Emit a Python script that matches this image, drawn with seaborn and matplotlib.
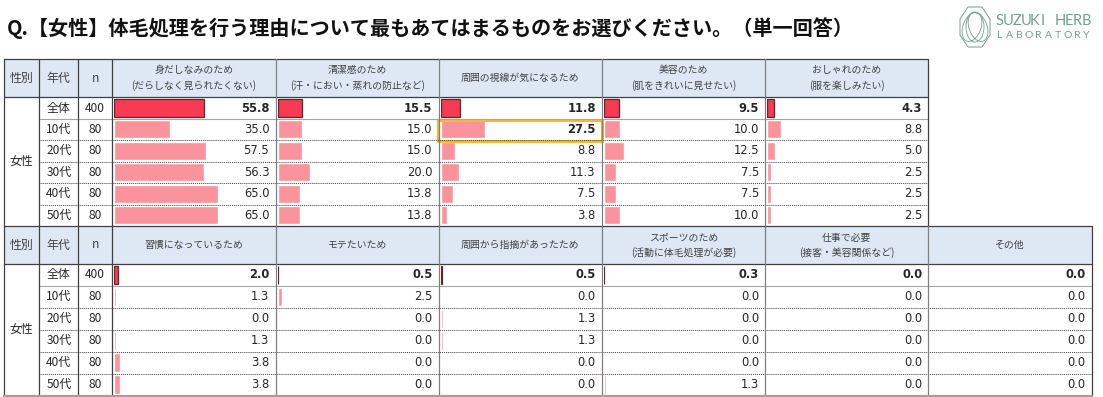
import numpy as np
import pandas as pd
import matplotlib
matplotlib.use('Agg')
import matplotlib.pyplot as plt
import matplotlib.transforms as mtrans
from matplotlib.patches import Rectangle, Polygon, Ellipse
import seaborn as sns

sns.set_theme(style='white')
plt.rcParams['font.family'] = ['Noto Sans CJK JP', 'DejaVu Sans']

# ---- data -------------------------------------------------------------
TITLE = 'Q.【女性】体毛処理を行う理由について最もあてはまるものをお選びください。（単一回答）'
GENDER = '女性'
AGES = ['全体', '10代', '20代', '30代', '40代', '50代']
N = [400, 80, 80, 80, 80, 80]

# upper block
headers_top = [
    ['身だしなみのため', '(だらしなく見られたくない)'],
    ['清潔感のため', '(汗・におい・蒸れの防止など)'],
    ['周囲の視線が気になるため'],
    ['美容のため', '(肌をきれいに見せたい)'],
    ['おしゃれのため', '(服を楽しみたい)'],
]
midashinami = [55.8, 35.0, 57.5, 56.3, 65.0, 65.0]
seiketsu = [15.5, 15.0, 15.0, 20.0, 13.8, 13.8]
shisen = [11.8, 27.5, 8.8, 11.3, 7.5, 3.8]
biyou = [9.5, 10.0, 12.5, 7.5, 7.5, 10.0]
oshare = [4.3, 8.8, 5.0, 2.5, 2.5, 2.5]

# lower block
headers_bottom = [
    ['習慣になっているため'],
    ['モテたいため'],
    ['周囲から指摘があったため'],
    ['スポーツのため', '(活動に体毛処理が必要)'],
    ['仕事で必要', '(接客・美容関係など)'],
    ['その他'],
]
shuukan = [2.0, 1.3, 0.0, 1.3, 3.8, 3.8]
motetai = [0.5, 2.5, 0.0, 0.0, 0.0, 0.0]
shiteki = [0.5, 0.0, 1.3, 1.3, 0.0, 0.0]
sports = [0.3, 0.0, 0.0, 0.0, 0.0, 1.3]
shigoto = [0.0, 0.0, 0.0, 0.0, 0.0, 0.0]
sonota = [0.0, 0.0, 0.0, 0.0, 0.0, 0.0]

values_top = [midashinami, seiketsu, shisen, biyou, oshare]
values_bottom = [shuukan, motetai, shiteki, sports, shigoto, sonota]
HIGHLIGHT = (0, 2, 1)  # block, column, row  (周囲の視線 / 10代)

# ---- style -----------------------------------------------------------
RED = '#F83A52'
PINK = '#FA939B'
EDGE = '#5A2A30'
HEAD_BG = '#DDE8F4'
LINE = '#404040'
TXT = '#262626'
HEAD_TXT = '#404040'
ORANGE = '#FBB730'
LOGO = '#6FA08E'

W, H = 1103, 397
fig = plt.figure(figsize=(W / 100, H / 100), dpi=100)


def rect_px(x0, y0, x1, y1):
    return [x0 / W, 1 - y1 / H, (x1 - x0) / W, (y1 - y0) / H]


bg = fig.add_axes([0, 0, 1, 1], zorder=0)
bg.set_xlim(0, W)
bg.set_ylim(H, 0)
bg.axis('off')

fg = fig.add_axes([0, 0, 1, 1], zorder=5)
fg.set_xlim(0, W)
fg.set_ylim(H, 0)
fg.axis('off')
fg.patch.set_alpha(0)

X_LEFT, X_AGE, X_N, X_DATA = 4.0, 39.3, 78.3, 112.3
COL_W = 163.2
blocks = [
    dict(top=59.0, head_bot=97.3, bot=226.0, heads=headers_top, vals=values_top),
    dict(top=226.0, head_bot=264.0, bot=395.5, heads=headers_bottom, vals=values_bottom),
]

fg.text(7, 28, TITLE, fontsize=14.5, fontweight='bold', color='#111111',
        ha='left', va='center')

for b_i, blk in enumerate(blocks):
    ncol = len(blk['heads'])
    x_right = X_DATA + COL_W * ncol
    top, hb, bot = blk['top'], blk['head_bot'], blk['bot']
    row_h = (bot - hb) / len(AGES)
    row_c = [hb + row_h * (i + 0.5) for i in range(len(AGES))]

    # header background
    bg.add_patch(Rectangle((X_LEFT, top), x_right - X_LEFT, hb - top,
                           facecolor=HEAD_BG, edgecolor='none'))

    # left header labels
    hc = (top + hb) / 2
    for xc, lab in [((X_LEFT + X_AGE) / 2, '性別'), ((X_AGE + X_N) / 2, '年代'),
                    ((X_N + X_DATA) / 2, 'n')]:
        fg.text(xc, hc, lab, fontsize=8.6, color=HEAD_TXT, ha='center', va='center')

    # row labels
    fg.text((X_LEFT + X_AGE) / 2, (hb + bot) / 2, GENDER, fontsize=8.6,
            color=TXT, ha='center', va='center')
    for i, (age, n) in enumerate(zip(AGES, N)):
        fg.text((X_AGE + X_N) / 2, row_c[i], age, fontsize=8.6, color=TXT,
                ha='center', va='center')
        fg.text((X_N + X_DATA) / 2, row_c[i], str(n), fontsize=8.6, color=TXT,
                ha='center', va='center')

    # data columns
    for c_i, (head, vals) in enumerate(zip(blk['heads'], blk['vals'])):
        x0 = X_DATA + COL_W * c_i
        xc = x0 + COL_W / 2
        if len(head) == 1:
            fg.text(xc, hc, head[0], fontsize=7.1, color=HEAD_TXT,
                    ha='center', va='center')
        else:
            fg.text(xc, top + 11.5, head[0], fontsize=7.1, color=HEAD_TXT,
                    ha='center', va='center')
            fg.text(xc, top + 26.5, head[1], fontsize=7.1, color=HEAD_TXT,
                    ha='center', va='center')

        ax = fig.add_axes(rect_px(x0 + 2, hb, x0 + 162, bot), zorder=2)
        df = pd.DataFrame({'age': AGES, 'value': vals})
        sns.barplot(data=df, x='value', y='age', hue='age', orient='h',
                    palette=[RED] + [PINK] * (len(AGES) - 1), saturation=1,
                    width=0.84, legend=False, ax=ax)
        ax.set_xlim(0, 100)
        ax.set_ylim(len(AGES) - 0.5, -0.5)
        ax.axis('off')
        ax.patch.set_alpha(0)
        if vals[0] > 0:
            ax.patches[0].set_edgecolor(EDGE)
            ax.patches[0].set_linewidth(0.9)

        tr = mtrans.blended_transform_factory(ax.transAxes, ax.transData)
        for r_i, v in enumerate(vals):
            bold = r_i == 0 or (b_i, c_i, r_i) == HIGHLIGHT
            ax.text(0.969, r_i, f'{v:.1f}', transform=tr, ha='right',
                    va='center', fontsize=8.3, family='DejaVu Sans',
                    fontweight='bold' if bold else 'normal', color=TXT)

        if (b_i, c_i) == HIGHLIGHT[:2]:
            r = HIGHLIGHT[2]
            fg.add_patch(Rectangle((x0 - 0.3, hb + row_h * r + 1.0), COL_W + 0.6,
                                   row_h + 0.2, fill=False, edgecolor=ORANGE,
                                   linewidth=2.2))

    # grid lines
    fg.plot([X_LEFT, x_right], [top, top], color=LINE, lw=0.9)
    fg.plot([X_LEFT, x_right], [hb, hb], color=LINE, lw=0.9)
    fg.plot([X_AGE, x_right], [hb + row_h, hb + row_h], color='#A6A6A6', lw=0.8)
    for i in range(2, len(AGES)):
        y = hb + row_h * i
        fg.plot([X_AGE, x_right], [y, y], color=LINE, lw=0.7,
                linestyle=(0, (1, 1)))
    for x in [X_LEFT, X_AGE, X_N, X_DATA]:
        fg.plot([x, x], [top, bot], color=LINE, lw=0.9)
    for k in range(1, ncol + 1):
        x = X_DATA + COL_W * k
        fg.plot([x, x], [top, bot], color=LINE if k == ncol else '#808080',
                lw=0.9)
    if b_i == len(blocks) - 1:
        fg.plot([X_LEFT, x_right], [bot, bot], color='#A0A0A0', lw=1.6)

# ---- logo ------------------------------------------------------------
cx, cy = 975, 27
hexv = [(cx - 7, cy - 20), (cx + 7, cy - 20), (cx + 15, cy - 8), (cx + 15, cy + 8),
        (cx + 7, cy + 20), (cx - 7, cy + 20), (cx - 15, cy + 8), (cx - 15, cy - 8)]
fg.add_patch(Polygon(hexv, closed=True, fill=False, edgecolor=LOGO, lw=0.7))
for ang, dx in [(20, -3), (-20, 3), (0, 0)]:
    fg.add_patch(Ellipse((cx + dx, cy), 18, 30, angle=ang, fill=False,
                         edgecolor=LOGO, lw=0.6))
for i, ch in enumerate('SUZUKI HERB'):
    fg.text(1000 + i * 8.6, 21, ch, fontsize=10.5, color=LOGO, family='Lato',
            ha='center', va='center')
for i, ch in enumerate('LABORATORY'):
    fg.text(1000 + i * 9.6, 35.5, ch, fontsize=7.5, color=LOGO, family='Lato',
            ha='center', va='center')

fig.savefig('out.png', dpi=100)
